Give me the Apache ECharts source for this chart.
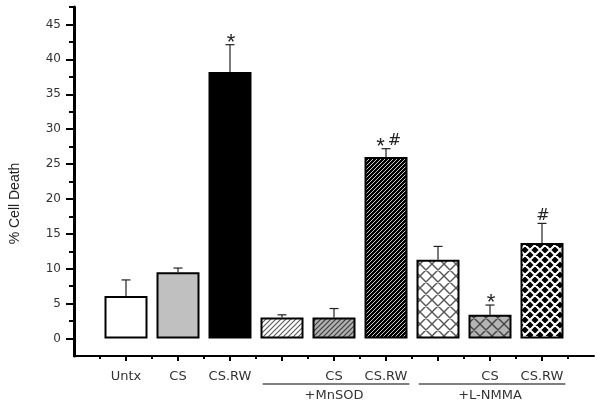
<!DOCTYPE html>
<html><head><meta charset="utf-8">
<script src="https://cdn.jsdelivr.net/npm/echarts@6/dist/echarts.min.js"></script>
<style>html,body{margin:0;padding:0;background:#fff}#c{width:602px;height:403px}</style>
</head><body><div id="c"></div>
<script>
const categories = ['Untx', 'CS', 'CS.RW', '', 'CS', 'CS.RW', '', 'CS', 'CS.RW'];
const values = [6.1, 9.5, 38.2, 3.0, 3.0, 26.0, 11.3, 3.4, 13.7];
const errors = [2.3, 0.6, 3.9, 0.4, 1.3, 1.2, 1.9, 1.4, 2.8];
const marks = ['', '', '*', '', '', '*#', '', '*', '#'];
const groupNames = ['+MnSOD', '+L-NMMA'];
const groupMembers = [[4, 6], [7, 9]];
const yTicks = [0, 5, 10, 15, 20, 25, 30, 35, 40, 45];
const yMinorTicks = [2.5, 7.5, 12.5, 17.5, 22.5, 27.5, 32.5, 37.5, 42.5, 47.5];

const xPos = categories.map((_, i) => i + 1);
const xMinor = [];
for (let i = 0; i <= categories.length; i++) xMinor.push(i + 0.5);

function pat(bg, fg, s, lw, cross) {
  const c = document.createElement('canvas');
  c.width = c.height = s;
  const g = c.getContext('2d');
  g.fillStyle = bg; g.fillRect(0, 0, s, s);
  g.strokeStyle = fg; g.lineWidth = lw;
  g.beginPath();
  g.moveTo(-1, s + 1); g.lineTo(s + 1, -1);
  g.moveTo(-1, 1); g.lineTo(1, -1);
  g.moveTo(s - 1, s + 1); g.lineTo(s + 1, s - 1);
  if (cross) {
    g.moveTo(-1, -1); g.lineTo(s + 1, s + 1);
    g.moveTo(s - 1, -1); g.lineTo(s + 1, 1);
    g.moveTo(-1, s - 1); g.lineTo(1, s + 1);
  }
  g.stroke();
  return { image: c, repeat: 'repeat' };
}

const fills = [
  '#ffffff', '#c0c0c0', '#000000',
  pat('#ffffff', '#5a5a5a', 5, 1.1, false),
  pat('#b0b0b0', '#3a3a3a', 5, 1.1, false),
  pat('#000000', '#ffffff', 4, 0.8, false),
  pat('#ffffff', '#555555', 12, 1.4, true),
  pat('#b4b4b4', '#444444', 12, 1.4, true),
  pat('#000000', '#ffffff', 10, 2, true)
];

const chart = echarts.init(document.getElementById('c'));
const txt = '#333';
chart.setOption({
  animation: false,
  backgroundColor: '#fff',
  grid: { left: 70, right: 8, top: 7, bottom: 47 },
  xAxis: [{
    type: 'value', min: 0, max: 10,
    axisLine: { onZero: false, lineStyle: { color: '#000', width: 2 } },
    axisTick: { customValues: xPos, length: 5, lineStyle: { color: '#000', width: 2 } },
    axisLabel: { customValues: xPos, formatter: v => categories[Math.round(v) - 1] || '',
      margin: 14, fontFamily: 'DejaVu Sans', fontSize: 13, color: txt },
    splitLine: { show: false }
  }, {
    type: 'value', min: 0, max: 10, position: 'bottom',
    axisLine: { show: false, onZero: false },
    axisTick: { customValues: xMinor, length: 3, lineStyle: { color: '#000', width: 2 } },
    axisLabel: { show: false }, splitLine: { show: false }
  }],
  yAxis: [{
    type: 'value', min: -2.5, max: 47.5,
    axisLine: { show: true, onZero: false, lineStyle: { color: '#000', width: 3 } },
    axisTick: { customValues: yTicks, length: 8, lineStyle: { color: '#000', width: 2 } },
    axisLabel: { customValues: yTicks, margin: 13, fontFamily: 'DejaVu Sans', fontSize: 12, color: txt },
    splitLine: { show: false },
    name: '% Cell Death', nameLocation: 'middle', nameGap: 52,
    nameTextStyle: { fontFamily: 'Liberation Sans', fontSize: 14, color: '#222', padding: [0, 44, 0, 0] }
  }, {
    type: 'value', min: -2.5, max: 47.5, position: 'left',
    axisLine: { show: false, onZero: false },
    axisTick: { customValues: yMinorTicks, length: 5, lineStyle: { color: '#000', width: 2 } },
    axisLabel: { show: false }, splitLine: { show: false }
  }],
  series: [{
    type: 'bar', xAxisIndex: 0, yAxisIndex: 0, barWidth: 43,
    itemStyle: { borderColor: '#000', borderWidth: 2 },
    data: values.map((v, i) => ({ value: [i + 1, v], itemStyle: { color: fills[i] } }))
  }, {
    type: 'custom', xAxisIndex: 0, yAxisIndex: 0, clip: false, z: 5,
    data: values.map((v, i) => [i + 1, v, errors[i], i]),
    renderItem: (params, api) => {
      const x = api.value(0), v = api.value(1), e = api.value(2), idx = api.value(3);
      const p0 = api.coord([x, v]), p1 = api.coord([x, v + e]);
      const st = { stroke: '#222', lineWidth: 1.2 };
      const children = [
        { type: 'line', shape: { x1: p0[0], y1: p0[1], x2: p1[0], y2: p1[1] }, style: st },
        { type: 'line', shape: { x1: p1[0] - 4.5, y1: p1[1], x2: p1[0] + 4.5, y2: p1[1] }, style: st }
      ];
      const m = marks[idx] || '';
      const ws = { '*': 9, '#': 11 };
      const gap = 4;
      let total = 0;
      for (const ch of m) total += ws[ch];
      total += gap * Math.max(0, m.length - 1);
      let cx = p1[0] - total / 2 + (m.length > 1 ? 2 : 1);
      for (const ch of m) {
        const w = ws[ch];
        const isStar = ch === '*';
        children.push({
          type: 'text',
          style: {
            text: ch, x: cx + w / 2, y: isStar ? p1[1] - 2 : p1[1] - 8,
            align: 'center', verticalAlign: 'middle',
            font: isStar ? '22px "Liberation Sans"' : '16px "DejaVu Sans"',
            fill: '#222'
          }
        });
        cx += w + gap;
      }
      return { type: 'group', children };
    }
  }]
});

const axisY = chart.convertToPixel({ yAxisIndex: 0 }, -2.5);
const graphics = [];
groupMembers.forEach((gm, k) => {
  const x1 = chart.convertToPixel({ xAxisIndex: 0 }, gm[0] - 0.37);
  const x2 = chart.convertToPixel({ xAxisIndex: 0 }, gm[1] + 0.45);
  const xc = chart.convertToPixel({ xAxisIndex: 0 }, (gm[0] + gm[1]) / 2);
  graphics.push({ type: 'line', shape: { x1, y1: axisY + 28, x2, y2: axisY + 28 }, style: { stroke: '#000', lineWidth: 1.2 } });
  graphics.push({ type: 'text', x: xc, y: axisY + 40,
    style: { text: groupNames[k], align: 'center', verticalAlign: 'middle', font: '13px "DejaVu Sans"', fill: txt } });
});
chart.setOption({ graphic: graphics });
</script>
</body></html>
